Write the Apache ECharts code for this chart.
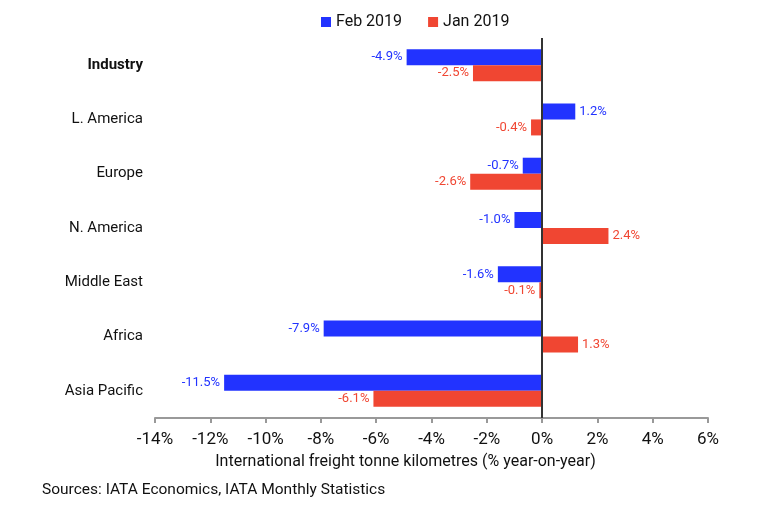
<!DOCTYPE html>
<html>
<head>
<meta charset="utf-8">
<script src="https://cdn.jsdelivr.net/npm/echarts@6/dist/echarts.min.js"></script>
<style>
  html, body { margin: 0; padding: 0; background: #fff; }
  #chart { width: 767px; height: 524px; }
</style>
</head>
<body>
<div id="chart"></div>
<script>
// regions, top to bottom
const regions = ['Industry', 'L. America', 'Europe', 'N. America', 'Middle East', 'Africa', 'Asia Pacific'];
const feb2019 = [-4.9, 1.2, -0.7, -1.0, -1.6, -7.9, -11.5];
const jan2019 = [-2.5, -0.4, -2.6, 2.4, -0.1, 1.3, -6.1];

const BLUE = '#2233ff';
const RED = '#f04632';
const FONT = 'Roboto, "Liberation Sans", sans-serif';

function withLabels(values, color) {
    return values.map(v => ({
        value: v,
        label: {
            show: true,
            position: v < 0 ? 'left' : 'right',
            distance: 4,
            color: color,
            fontSize: 13,
            fontFamily: FONT,
            formatter: p => p.value.toFixed(1) + '%'
        }
    }));
}

const chart = echarts.init(document.getElementById('chart'));

const option = {
    animation: false,
    legend: {
        top: 14,
        left: 321,
        padding: 0,
        itemWidth: 10,
        itemHeight: 10,
        itemGap: 26,
        icon: 'rect',
        textStyle: { fontFamily: FONT, fontSize: 16, color: '#111' },
        data: ['Feb 2019', 'Jan 2019']
    },
    grid: { left: 155, right: 59, top: 38, bottom: 106, containLabel: false },
    xAxis: {
        type: 'value',
        min: -14,
        max: 6,
        interval: 2,
        splitLine: { show: false },
        axisLine: { show: true, lineStyle: { color: '#999', width: 2 } },
        axisTick: { show: true, length: 5, lineStyle: { color: '#999', width: 2 } },
        axisLabel: {
            color: '#111', fontSize: 17, fontFamily: FONT, margin: 13,
            formatter: v => v + '%'
        },
        name: 'International freight tonne kilometres (% year-on-year)',
        nameLocation: 'middle',
        nameGap: 36,
        nameTextStyle: { color: '#111', fontSize: 16, fontFamily: FONT, padding: [0, 52, 0, 0] }
    },
    yAxis: {
        type: 'category',
        data: regions,
        inverse: true,
        axisLine: { show: false },
        axisTick: { show: false },
        axisLabel: {
            margin: 12,
            color: '#111',
            fontSize: 15,
            fontFamily: FONT,
            formatter: v => v === 'Industry' ? '{b|' + v + '}' : v,
            rich: { b: { fontWeight: 'bold', fontSize: 15, fontFamily: FONT, color: '#111' } }
        }
    },
    series: [
        {
            name: 'Feb 2019',
            type: 'bar',
            data: withLabels(feb2019, BLUE),
            itemStyle: { color: BLUE },
            barWidth: 16,
            barGap: '0%',
            markLine: {
                silent: true,
                symbol: 'none',
                label: { show: false },
                lineStyle: { color: '#333', width: 2, type: 'solid' },
                data: [{ xAxis: 0 }]
            }
        },
        {
            name: 'Jan 2019',
            type: 'bar',
            data: withLabels(jan2019, RED),
            itemStyle: { color: RED },
            barWidth: 16,
            barGap: '0%'
        }
    ],
    graphic: [{
        type: 'text',
        left: 42,
        top: 482,
        style: {
            text: 'Sources: IATA Economics, IATA Monthly Statistics',
            fill: '#111',
            font: '15.5px ' + FONT
        }
    }]
};

chart.setOption(option);
window.addEventListener('resize', () => chart.resize());
</script>
</body>
</html>
